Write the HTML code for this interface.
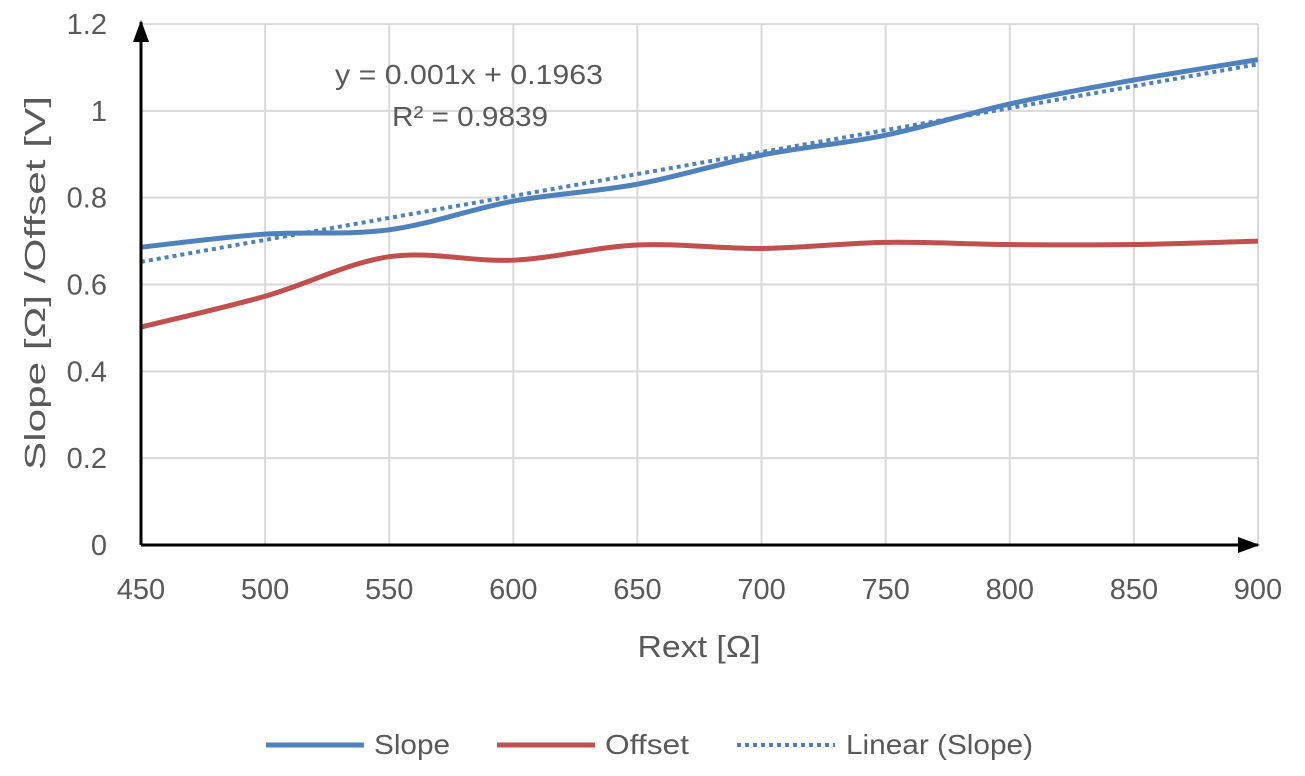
<!DOCTYPE html>
<html><head><meta charset="utf-8"><style>
body{margin:0;background:#fff;}
svg{display:block;font-family:"Liberation Sans",sans-serif;}
</style></head><body>
<svg id="chart" width="1305" height="776" viewBox="0 0 1305 776">
<defs>
<marker id="arr" markerWidth="22" markerHeight="16" refX="20" refY="8" orient="auto" markerUnits="userSpaceOnUse"><path d="M0,0 L22,8 L0,16 Z" fill="#000"/></marker>
</defs>
<g id="grid"></g><g id="series"></g><g id="axes"></g>
<text x="469" y="84" font-size="28" fill="#595959" text-anchor="middle" textLength="268" lengthAdjust="spacingAndGlyphs">y = 0.001x + 0.1963</text>
<text x="470" y="126" font-size="28" fill="#595959" text-anchor="middle" textLength="156" lengthAdjust="spacingAndGlyphs">R² = 0.9839</text>
<text x="699" y="657" font-size="31" fill="#595959" text-anchor="middle" textLength="123" lengthAdjust="spacingAndGlyphs">Rext [Ω]</text>
<text transform="translate(45,283) rotate(-90)" font-size="29" fill="#595959" text-anchor="middle" textLength="374" lengthAdjust="spacingAndGlyphs">Slope [Ω] /Offset [V]</text>
<g>
<g><line x1="266" y1="745" x2="364" y2="745" stroke="#4f81bd" stroke-width="5"/><text x="374" y="754" font-size="28" fill="#595959" textLength="76" lengthAdjust="spacingAndGlyphs">Slope</text></g>
<g><line x1="497" y1="745" x2="595" y2="745" stroke="#c0504d" stroke-width="5"/><text x="605" y="754" font-size="28" fill="#595959" textLength="84" lengthAdjust="spacingAndGlyphs">Offset</text></g>
<g><line x1="737" y1="745" x2="835" y2="745" stroke="#4f81bd" stroke-width="4" stroke-dasharray="4,4"/><text x="846" y="754" font-size="28" fill="#595959" textLength="187" lengthAdjust="spacingAndGlyphs">Linear (Slope)</text></g>
</g>
</svg>
<script>
const categories=[450,500,550,600,650,700,750,800,850,900];
const slopeValues=[0.686,0.716,0.726,0.792,0.831,0.898,0.944,1.016,1.071,1.118];
const offsetValues=[0.502,0.573,0.664,0.656,0.691,0.683,0.697,0.692,0.692,0.700];
const xTicks=[450,500,550,600,650,700,750,800,850,900];
const yTicks=[0,0.2,0.4,0.6,0.8,1,1.2];
const X0=141,X1=1258,Y0=545,Y1=24;
const xs=v=>X0+(v-450)/450*(X1-X0);
const ys=v=>Y0-v/1.2*(Y0-Y1);
const NS="http://www.w3.org/2000/svg";
function mk(tag,attrs,parent){const e=document.createElementNS(NS,tag);for(const k in attrs)e.setAttribute(k,attrs[k]);parent.appendChild(e);return e;}
const grid=document.getElementById('grid'),axes=document.getElementById('axes'),ser=document.getElementById('series');
xTicks.forEach(t=>{
 const l=mk('line',{x1:xs(t),x2:xs(t),y1:Y1,y2:Y0,stroke:'#d9d9d9','stroke-width':2},grid);
 
 
 const tx=mk('text',{x:xs(t),y:599,'font-size':29,fill:'#595959','text-anchor':'middle'},axes);
 tx.textContent=t;
 
 
});
yTicks.forEach(t=>{
 const l=mk('line',{x1:X0,x2:X1,y1:ys(t),y2:ys(t),stroke:'#d9d9d9','stroke-width':2},grid);
 
 
 const tx=mk('text',{x:107,y:ys(t)+10,'font-size':29,fill:'#595959','text-anchor':'end'},axes);
 tx.textContent=t;
 
 
});
const xa=mk('line',{x1:X0,x2:1258,y1:Y0,y2:Y0,stroke:'#000','stroke-width':3,'marker-end':'url(#arr)'},axes);


const ya=mk('line',{x1:X0,x2:X0,y1:Y0,y2:22,stroke:'#000','stroke-width':3,'marker-end':'url(#arr)'},axes);


function smooth(vals){
 const p=categories.map((c,i)=>[xs(c),ys(vals[i])]);
 let d='M'+p[0][0]+','+p[0][1];
 for(let i=0;i<p.length-1;i++){
  const p0=p[i-1]||p[i],p1=p[i],p2=p[i+1],p3=p[i+2]||p2;
  const c1=[p1[0]+(p2[0]-p0[0])/6,p1[1]+(p2[1]-p0[1])/6];
  const c2=[p2[0]-(p3[0]-p1[0])/6,p2[1]-(p3[1]-p1[1])/6];
  d+=` C${c1[0]},${c1[1]} ${c2[0]},${c2[1]} ${p2[0]},${p2[1]}`;
 }
 return d;
}
const n=categories.length;
const mx=categories.reduce((a,b)=>a+b)/n,my=slopeValues.reduce((a,b)=>a+b)/n;
let sxy=0,sxx=0;categories.forEach((c,i)=>{sxy+=(c-mx)*(slopeValues[i]-my);sxx+=(c-mx)*(c-mx);});
const m=sxy/sxx,b=my-m*mx;
const tr=mk('line',{x1:xs(450),y1:ys(m*450+b),x2:xs(900),y2:ys(m*900+b),stroke:'#4f81bd','stroke-width':4,'stroke-dasharray':'4,4'},ser);


const so=mk('path',{d:smooth(offsetValues),fill:'none',stroke:'#c0504d','stroke-width':5},ser);


const sl=mk('path',{d:smooth(slopeValues),fill:'none',stroke:'#4f81bd','stroke-width':5},ser);


</script>
</body></html>
